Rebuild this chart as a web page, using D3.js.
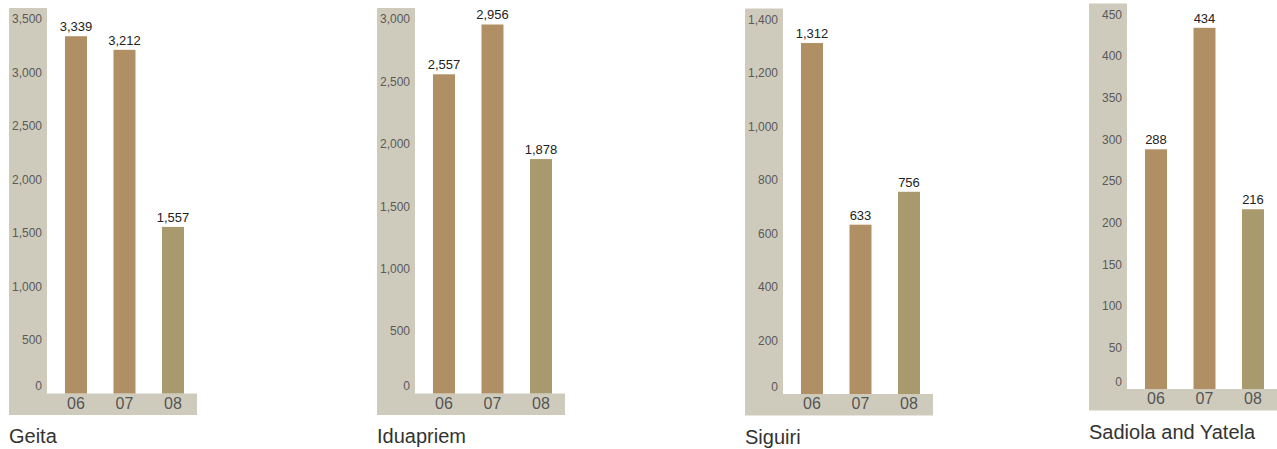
<!DOCTYPE html>
<html>
<head>
<meta charset="utf-8">
<script src="https://cdn.jsdelivr.net/npm/d3@7"></script>
<style>
  html, body { margin: 0; padding: 0; background: #fff; }
  svg { display: block; font-family: "Liberation Sans", Arial, Helvetica, sans-serif; }
</style>
</head>
<body>
<svg id="chart" width="1277" height="449"></svg>
<script>
// ---- data ----
const years = ["06", "07", "08"];
const mines = ["Geita", "Iduapriem", "Siguiri", "Sadiola and Yatela"];
const geitaValues = [3339, 3212, 1557];
const iduapriemValues = [2557, 2956, 1878];
const siguiriValues = [1312, 633, 756];
const sadiolaValues = [288, 434, 216];
const axisMax = [3500, 3000, 1400, 450];
const tickStep = [500, 500, 200, 50];

const seriesValues = [geitaValues, iduapriemValues, siguiriValues, sadiolaValues];

// ---- layout / style ----
const panelX = [9, 377, 745, 1089];
const panelY = [0, 0, 0.5, -4.5];
const panelW = 188;
const bandW = 38;
const bandTop = 8;
const baseY = 393.5;
const topY = 19;
const bandBottom = 415;
const barW = 22;
const bandColor = "#cfcbbc";
const barColors = ["#b18f65", "#b18f65", "#a99a6e"];

const svg = d3.select("#chart");

mines.forEach((name, i) => {
  const g = svg.append("g").attr("transform", `translate(${panelX[i]},${panelY[i]})`);
  const vals = seriesValues[i];

  const y = d3.scaleLinear().domain([0, axisMax[i]]).range([baseY, topY]);
  const x = d3.scalePoint().domain(years).range([67, 164]);

  // background bands
  g.append("rect").attr("x", 0).attr("y", bandTop)
    .attr("width", bandW).attr("height", bandBottom - bandTop)
    .attr("fill", bandColor);
  g.append("rect").attr("x", bandW).attr("y", baseY)
    .attr("width", panelW - bandW).attr("height", bandBottom - baseY)
    .attr("fill", bandColor);

  // y axis
  const ticks = d3.range(0, axisMax[i] + 1, tickStep[i]);
  const axis = d3.axisLeft(y).tickValues(ticks).tickSize(0).tickPadding(0)
    .tickFormat(d3.format(","));
  const ax = g.append("g").attr("transform", `translate(${bandW - 5},0)`).call(axis);
  ax.select(".domain").remove();
  ax.selectAll("text")
    .attr("fill", "#5a5a5a")
    .style("font-size", "12px")
    .style("font-family", "'Liberation Sans', Arial, sans-serif");
  ax.selectAll(".tick").filter(d => d === 0).select("text").attr("dy", "-0.3em");

  // bars
  g.selectAll("rect.bar").data(vals).join("rect")
    .attr("class", "bar")
    .attr("x", (d, j) => x(years[j]) - barW / 2)
    .attr("y", d => y(d))
    .attr("width", barW)
    .attr("height", d => baseY - y(d))
    .attr("fill", (d, j) => barColors[j]);

  // value labels
  g.selectAll("text.val").data(vals).join("text")
    .attr("class", "val")
    .attr("x", (d, j) => x(years[j]))
    .attr("y", d => y(d) - 5)
    .attr("text-anchor", "middle")
    .attr("fill", "#222")
    .style("font-size", "13px")
    .text(d => d3.format(",")(d));

  // category labels
  g.selectAll("text.cat").data(years).join("text")
    .attr("class", "cat")
    .attr("x", d => x(d))
    .attr("y", 408.5)
    .attr("text-anchor", "middle")
    .attr("fill", "#555")
    .style("font-size", "16px")
    .text(d => d);

  // title
  g.append("text")
    .attr("x", 0).attr("y", 443)
    .attr("fill", "#333")
    .style("font-size", "20px")
    .text(name);
});
</script>
</body>
</html>
